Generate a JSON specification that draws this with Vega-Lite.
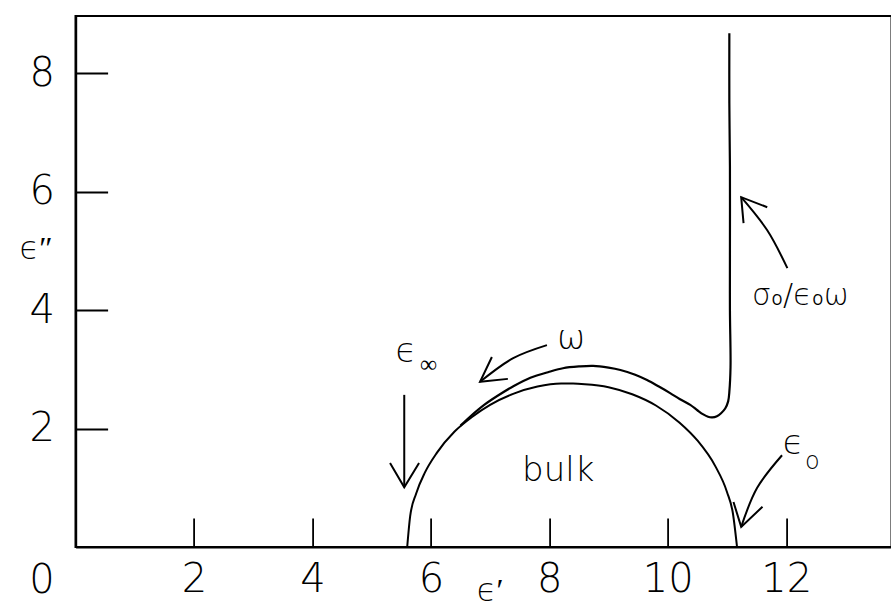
{
  "$schema": "https://vega.github.io/schema/vega-lite/v6.json",
  "width": 816,
  "height": 531,
  "autosize": "none",
  "padding": {"left": 75.6, "top": 16, "right": 0, "bottom": 67},
  "background": "white",
  "config": {
    "view": {"stroke": "black", "strokeWidth": 2.2},
    "axis": {
      "grid": false,
      "domainColor": "black",
      "domainWidth": 2.2,
      "tickColor": "black",
      "tickWidth": 1.8,
      "labelFont": "DejaVu Sans",
      "labelFontWeight": 200,
      "labelFontSize": 40,
      "labelColor": "black",
      "labelFlush": false,
      "titleFont": "DejaVu Sans",
      "titleFontWeight": 200,
      "titleFontSize": 32,
      "titleColor": "black"
    },
    "text": {"font": "DejaVu Sans", "fontWeight": 200, "color": "black"}
  },
  "datasets": {
    "bulk": [
      {"i": 0, "e1": 5.6, "e2": 0},
      {"i": 1, "e1": 5.65, "e2": 0.52},
      {"i": 2, "e1": 5.75, "e2": 0.9},
      {"i": 3, "e1": 5.9, "e2": 1.26},
      {"i": 4, "e1": 6.1, "e2": 1.59},
      {"i": 5, "e1": 6.4, "e2": 1.95},
      {"i": 6, "e1": 6.7, "e2": 2.2},
      {"i": 7, "e1": 7.0, "e2": 2.4},
      {"i": 8, "e1": 7.4, "e2": 2.59},
      {"i": 9, "e1": 7.8, "e2": 2.71},
      {"i": 10, "e1": 8.2, "e2": 2.76},
      {"i": 11, "e1": 8.4, "e2": 2.76},
      {"i": 12, "e1": 8.6, "e2": 2.75},
      {"i": 13, "e1": 9.0, "e2": 2.7},
      {"i": 14, "e1": 9.4, "e2": 2.58},
      {"i": 15, "e1": 9.8, "e2": 2.39},
      {"i": 16, "e1": 10.2, "e2": 2.1},
      {"i": 17, "e1": 10.5, "e2": 1.8},
      {"i": 18, "e1": 10.8, "e2": 1.37},
      {"i": 19, "e1": 11.0, "e2": 0.93},
      {"i": 20, "e1": 11.1, "e2": 0.57},
      {"i": 21, "e1": 11.17, "e2": 0}
    ],
    "total": [
      {"i": 0, "e1": 6.5, "e2": 2.05},
      {"i": 1, "e1": 6.66, "e2": 2.2},
      {"i": 2, "e1": 6.9, "e2": 2.4},
      {"i": 3, "e1": 7.12, "e2": 2.55},
      {"i": 4, "e1": 7.4, "e2": 2.72},
      {"i": 5, "e1": 7.68, "e2": 2.86},
      {"i": 6, "e1": 8.0, "e2": 2.96},
      {"i": 7, "e1": 8.23, "e2": 3.02},
      {"i": 8, "e1": 8.5, "e2": 3.05},
      {"i": 9, "e1": 8.74, "e2": 3.06},
      {"i": 10, "e1": 9.0, "e2": 3.03},
      {"i": 11, "e1": 9.2, "e2": 2.99},
      {"i": 12, "e1": 9.45, "e2": 2.91},
      {"i": 13, "e1": 9.65, "e2": 2.82},
      {"i": 14, "e1": 9.85, "e2": 2.71},
      {"i": 15, "e1": 10.04, "e2": 2.6},
      {"i": 16, "e1": 10.2, "e2": 2.5},
      {"i": 17, "e1": 10.38, "e2": 2.4},
      {"i": 18, "e1": 10.5, "e2": 2.31},
      {"i": 19, "e1": 10.6, "e2": 2.24},
      {"i": 20, "e1": 10.68, "e2": 2.2},
      {"i": 21, "e1": 10.75, "e2": 2.19},
      {"i": 22, "e1": 10.83, "e2": 2.21},
      {"i": 23, "e1": 10.9, "e2": 2.26},
      {"i": 24, "e1": 10.97, "e2": 2.34},
      {"i": 25, "e1": 11.02, "e2": 2.46},
      {"i": 26, "e1": 11.04, "e2": 2.62},
      {"i": 27, "e1": 11.06, "e2": 3.04},
      {"i": 28, "e1": 11.05, "e2": 4.0},
      {"i": 29, "e1": 11.05, "e2": 5.0},
      {"i": 30, "e1": 11.05, "e2": 6.42},
      {"i": 31, "e1": 11.04, "e2": 7.5},
      {"i": 32, "e1": 11.04, "e2": 8.68}
    ],
    "shafts": [
      {"g": "inf", "i": 0, "e1": 5.55, "e2": 2.57},
      {"g": "inf", "i": 1, "e1": 5.55, "e2": 1.01},
      {"g": "omega", "i": 0, "e1": 7.96, "e2": 3.41},
      {"g": "omega", "i": 1, "e1": 7.39, "e2": 3.19},
      {"g": "omega", "i": 2, "e1": 6.83, "e2": 2.79},
      {"g": "sigma", "i": 0, "e1": 12.02, "e2": 4.71},
      {"g": "sigma", "i": 1, "e1": 11.68, "e2": 5.35},
      {"g": "sigma", "i": 2, "e1": 11.24, "e2": 5.91},
      {"g": "zero", "i": 0, "e1": 11.93, "e2": 1.55},
      {"g": "zero", "i": 1, "e1": 11.51, "e2": 1.0},
      {"g": "zero", "i": 2, "e1": 11.24, "e2": 0.34}
    ],
    "heads": [
      {"g": "inf", "i": 0, "e1": 5.31, "e2": 1.42},
      {"g": "inf", "i": 1, "e1": 5.55, "e2": 1.01},
      {"g": "inf", "i": 2, "e1": 5.8, "e2": 1.42},
      {"g": "omega", "i": 0, "e1": 7.03, "e2": 3.21},
      {"g": "omega", "i": 1, "e1": 6.83, "e2": 2.79},
      {"g": "omega", "i": 2, "e1": 7.3, "e2": 2.84},
      {"g": "sigma", "i": 0, "e1": 11.28, "e2": 5.47},
      {"g": "sigma", "i": 1, "e1": 11.24, "e2": 5.91},
      {"g": "sigma", "i": 2, "e1": 11.68, "e2": 5.74},
      {"g": "zero", "i": 0, "e1": 11.11, "e2": 0.76},
      {"g": "zero", "i": 1, "e1": 11.24, "e2": 0.34},
      {"g": "zero", "i": 2, "e1": 11.6, "e2": 0.68}
    ],
    "origin": [
      {"e1": -0.57, "e2": -0.58, "t": "0"}
    ],
    "bigText": [
      {"e1": 5.58, "e2": 3.29, "t": "ϵ"},
      {"e1": 12.12, "e2": 1.74, "t": "ϵ"},
      {"e1": 8.37, "e2": 3.51, "t": "ω"}
    ],
    "subText": [
      {"e1": 5.96, "e2": 3.07, "t": "∞"},
      {"e1": 12.44, "e2": 1.43, "t": "o"}
    ],
    "wordText": [
      {"e1": 8.15, "e2": 1.28, "t": "bulk"}
    ],
    "ratioText": [
      {"e1": 12.24, "e2": 4.24, "t": "σ₀/ϵ₀ω"}
    ]
  },
  "encoding": {
    "x": {
      "field": "e1",
      "type": "quantitative",
      "scale": {"domain": [0, 13.78], "nice": false, "zero": false},
      "axis": {
        "values": [2, 4, 6, 8, 10, 12],
        "tickSize": -29,
        "labelPadding": 62,
        "labelBaseline": "middle",
        "title": "ϵ′",
        "titleX": 414,
        "titleY": 44,
        "titleAnchor": null,
        "titleAlign": "center",
        "titleBaseline": "middle"
      }
    },
    "y": {
      "field": "e2",
      "type": "quantitative",
      "scale": {"domain": [0, 8.97], "nice": false, "zero": false},
      "axis": {
        "values": [2, 4, 6, 8],
        "tickSize": -32,
        "labelPadding": 66,
        "labelAlign": "center",
        "labelBaseline": "middle",
        "title": "ϵ″",
        "titleAngle": 0,
        "titleX": -40,
        "titleY": 232,
        "titleAlign": "center",
        "titleBaseline": "middle"
      }
    }
  },
  "layer": [
    {
      "data": {"name": "bulk"},
      "mark": {"type": "line", "color": "black", "strokeWidth": 2, "interpolate": "monotone"},
      "encoding": {"order": {"field": "i", "type": "quantitative"}}
    },
    {
      "data": {"name": "total"},
      "mark": {"type": "line", "color": "black", "strokeWidth": 2.2, "interpolate": "catmull-rom"},
      "encoding": {"order": {"field": "i", "type": "quantitative"}}
    },
    {
      "data": {"name": "shafts"},
      "mark": {"type": "line", "color": "black", "strokeWidth": 2, "interpolate": "catmull-rom"},
      "encoding": {
        "detail": {"field": "g", "type": "nominal"},
        "order": {"field": "i", "type": "quantitative"}
      }
    },
    {
      "data": {"name": "heads"},
      "mark": {"type": "line", "color": "black", "strokeWidth": 2},
      "encoding": {
        "detail": {"field": "g", "type": "nominal"},
        "order": {"field": "i", "type": "quantitative"}
      }
    },
    {
      "data": {"name": "origin"},
      "mark": {"type": "text", "fontSize": 40, "baseline": "middle", "align": "center"},
      "encoding": {"text": {"field": "t"}}
    },
    {
      "data": {"name": "bigText"},
      "mark": {"type": "text", "fontSize": 34, "baseline": "middle", "align": "center"},
      "encoding": {"text": {"field": "t"}}
    },
    {
      "data": {"name": "subText"},
      "mark": {"type": "text", "fontSize": 24, "baseline": "middle", "align": "center"},
      "encoding": {"text": {"field": "t"}}
    },
    {
      "data": {"name": "wordText"},
      "mark": {"type": "text", "fontSize": 34, "baseline": "middle", "align": "center"},
      "encoding": {"text": {"field": "t"}}
    },
    {
      "data": {"name": "ratioText"},
      "mark": {"type": "text", "fontSize": 30, "baseline": "middle", "align": "center"},
      "encoding": {"text": {"field": "t"}}
    }
  ]
}
